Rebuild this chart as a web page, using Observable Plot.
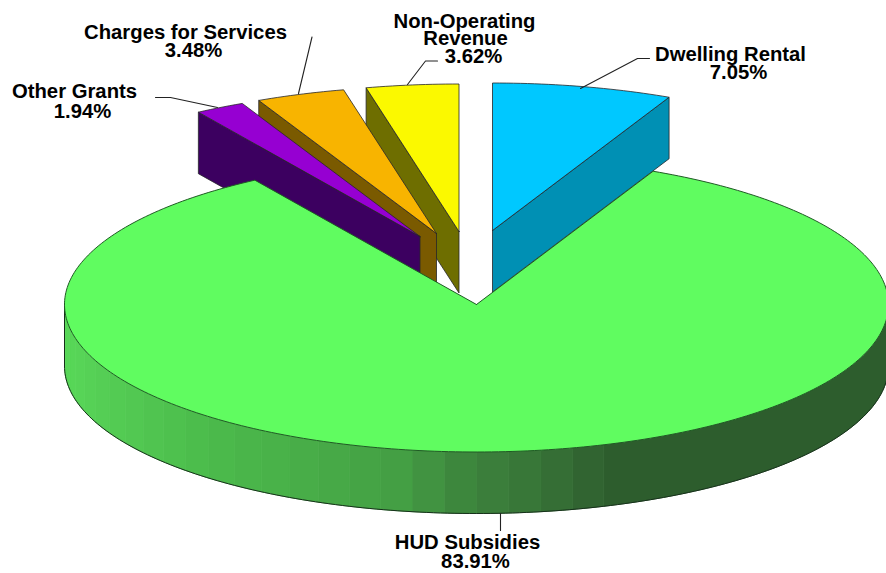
<!DOCTYPE html>
<html>
<head>
<meta charset="utf-8">
<style>
  html, body { margin: 0; padding: 0; background: #fff; overflow: hidden; }
  svg { display: block; }
</style>
<script src="https://cdn.jsdelivr.net/npm/d3@7"></script>
<script src="https://cdn.jsdelivr.net/npm/@observablehq/plot@0.6"></script>
</head>
<body>
<script>
// Revenue shares, clockwise from twelve o'clock.
const categories = ["Dwelling Rental", "HUD Subsidies", "Other Grants", "Charges for Services", "Non-Operating Revenue"];
const shares = [7.05, 83.91, 1.94, 3.48, 3.62];

// Face colours of each wedge.
const topColors = ["#00c8ff", "#60fc60", "#9600d2", "#f8b400", "#fbf900"];
const sideColors = ["#0090b4", "#2d5d2d", "#3c0060", "#7a5a00", "#6e6e00"];

// Where each pulled-out wedge has its tip.
const tipX = [492, 476, 419.5, 436, 458.5];
const tipY = [230, 304, 236, 233, 231];

// Perspective of the disc.
const rx = 412, ry = 147.5, depth = 61.5;

// Label rows: text, centre, baseline.
const labelText = ["Dwelling Rental", "7.05%", "HUD Subsidies", "83.91%", "Other Grants", "1.94%",
  "Charges for Services", "3.48%", "Non-Operating", "Revenue", "3.62%"];
const labelX = [730, 738, 467, 475, 74, 82, 185, 193, 464, 465, 473];
const labelY = [60, 78, 548, 567, 97, 117, 38, 56, 27, 44, 62];

// Leader lines, one path per label.
const leaders = [
  [[649, 58], [637, 58], [580, 88]],
  [[500, 513], [500, 530]],
  [[155, 97], [170, 97], [217, 107]],
  [[311.5, 36.5], [298, 93]],
  [[437, 60.5], [425, 60.5], [407, 84]]
];

// Rim shading, by horizontal position across the front of the disc.
const rimStopX = [64, 110, 200, 300, 400, 450, 500, 540, 580, 610];
const rimStopColor = ["#58d858", "#54cc54", "#4cbc4c", "#48ae48", "#449e44", "#3e8a3e", "#3a7c3a", "#377337", "#326632", "#2d5d2d"];
const rimShade = d3.scaleLinear().domain(rimStopX).range(rimStopColor).clamp(true);

const rad = (d) => (d * Math.PI) / 180;
const at = (cx, cy, deg, drop = 0) => ({
  x: cx + rx * Math.sin(rad(deg)),
  y: cy - ry * Math.cos(rad(deg)) + drop
});
const arc = (cx, cy, a0, a1, drop = 0) => {
  const n = Math.max(2, Math.ceil(Math.abs(a1 - a0)));
  return d3.range(n + 1).map((i) => at(cx, cy, a0 + ((a1 - a0) * i) / n, drop));
};

// Cumulative wedge angles from the shares.
const total = d3.sum(shares);
let running = 0;
const wedges = categories.map((name, i) => {
  const a0 = (running / total) * 360;
  running += shares[i];
  return { name, i, a0, a1: (running / total) * 360 };
});

const faces = [];
let faceId = 0;
const addFace = (pts, fill, edge) => {
  const id = faceId++;
  [...pts, pts[0]].forEach((p) => faces.push({ ...p, id, fill, edge }));
};

// The radial cut face that looks toward the viewer, then the wedge's top.
const drawPulled = (w, cutAngle) => {
  const cx = tipX[w.i], cy = tipY[w.i];
  addFace(
    [{ x: cx, y: cy }, at(cx, cy, cutAngle), at(cx, cy, cutAngle, depth), { x: cx, y: cy + depth }],
    sideColors[w.i], "#26262a"
  );
  addFace([{ x: cx, y: cy }, ...arc(cx, cy, w.a0, w.a1)], topColors[w.i], "#26262a");
};

// Back to front: each small wedge sits in front of its clockwise neighbour.
drawPulled(wedges[4], wedges[4].a0);
drawPulled(wedges[3], wedges[3].a0);
drawPulled(wedges[2], wedges[2].a0);
drawPulled(wedges[0], wedges[0].a1);

// The large wedge: banded rim, then its top over everything behind it.
// Neighbouring steps of one shade are merged into a single band.
const hud = wedges[1];
const cx = tipX[1], cy = tipY[1];
const bandStep = 4.5;
const bandEdges = d3.range(90, 270 + bandStep / 2, bandStep);
const bands = [];
d3.pairs(bandEdges).forEach(([a, b]) => {
  const shade = rimShade(at(cx, cy, (a + b) / 2).x);
  const last = bands[bands.length - 1];
  if (last && last.shade === shade) last.b = b;
  else bands.push({ a, b, shade });
});
bands.forEach(({ a, b, shade }) => {
  addFace([...arc(cx, cy, a, b), ...arc(cx, cy, b, a, depth)], shade, shade);
});
const rimEdge = arc(cx, cy, 90, 270, depth);
const leftEdge = [at(cx, cy, 270), at(cx, cy, 270, depth)];
const topFace = [{ x: cx, y: cy }, ...arc(cx, cy, hud.a0, hud.a1), { x: cx, y: cy }];

const labels = labelText.map((text, i) => ({ text, x: labelX[i], y: labelY[i] }));

const chart = Plot.plot({
  width: 886,
  height: 573,
  margin: 0,
  x: { type: "linear", domain: [0, 886], range: [0, 886], axis: null },
  y: { type: "linear", domain: [0, 573], range: [0, 573], axis: null },
  color: { type: "identity" },
  marks: [
    Plot.line(faces, {
      x: "x", y: "y", z: "id",
      fill: "fill", stroke: "edge",
      strokeWidth: 0.8, strokeLinejoin: "round", curve: "linear"
    }),
    Plot.line(rimEdge, { x: "x", y: "y", stroke: "#16301a", strokeWidth: 1 }),
    Plot.line(leftEdge, { x: "x", y: "y", stroke: "#16301a", strokeWidth: 1 }),
    Plot.line(topFace, {
      x: "x", y: "y",
      fill: topColors[1], stroke: "#1f5a24", strokeWidth: 1, strokeLinejoin: "round"
    }),
    ...leaders.map((path) =>
      Plot.line(path, { x: (d) => d[0], y: (d) => d[1], stroke: "#222", strokeWidth: 1.1 })
    ),
    Plot.text(labels, {
      x: "x", y: "y", text: "text",
      textAnchor: "middle", lineAnchor: "bottom",
      fontFamily: "Liberation Sans", fontWeight: "bold", fontSize: 20.3, fill: "#000"
    })
  ]
});
chart.style.background = "#fff";
document.body.appendChild(chart);
</script>
</body>
</html>
